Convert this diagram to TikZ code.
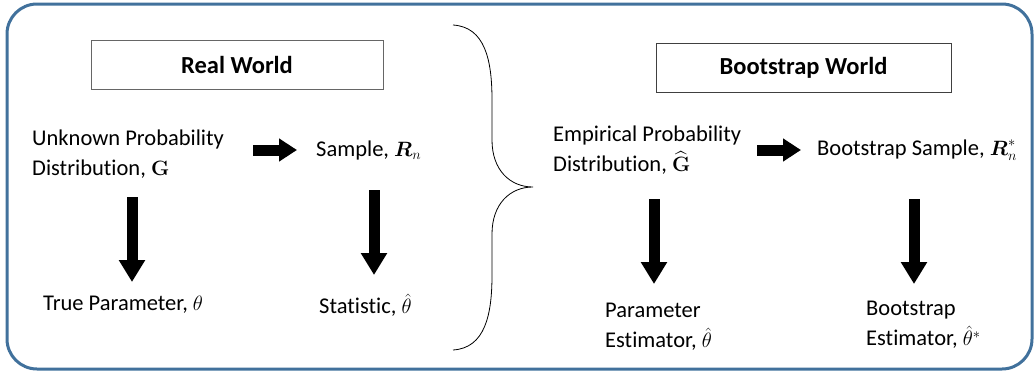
\documentclass[tikz,border=0pt]{standalone}
\usepackage{amsmath}
\usepackage[no-math]{fontspec}
\setmainfont{Carlito}[Ligatures=NoCommon]
\usetikzlibrary{arrows.meta}
\definecolor{frameblue}{RGB}{65,113,156}
\begin{document}
\begin{tikzpicture}[x=1pt,y=-1pt,
  txt/.style={inner sep=0pt,font=\fontsize{22.5}{30}\selectfont,align=left,anchor=west},
  titlebox/.style={draw=black!60,line width=0.9pt,inner sep=0pt,minimum height=49pt,font=\fontsize{24.5}{28}\selectfont\bfseries},
  bigarrow/.style={line width=11pt,-{Triangle[length=22pt,width=25pt]}},
  hbigarrow/.style={line width=11pt,-{Triangle[length=18pt,width=22pt]}}]
\useasboundingbox (0,0) rectangle (1034,372);
\draw[frameblue,line width=3pt,rounded corners=30pt] (7,4) rectangle (1032,369);
% titles
\node[titlebox,minimum width=292pt] (rw) at (237,64.5) {Real World};
\node[titlebox,draw=black!75,minimum width=295pt] (bw) at (803.5,67.5) {Bootstrap World};
% real world
\node[txt] (u) at (32,154) {Unknown Probability\\Distribution, $\mathbf{G}$};
\node[txt] (s) at (316,150) {Sample, $\boldsymbol{R}_n$};
\node[txt] (tp) at (43,305) {True Parameter, $\theta$};
\node[txt] (st) at (319,305) {Statistic, $\hat{\theta}$};
% bootstrap world
\node[txt] (e) at (553,150) {Empirical Probability\\Distribution, $\widehat{\mathbf{G}}$};
\node[txt] (bs) at (817,150) {Bootstrap Sample, $\boldsymbol{R}_n^*$};
\node[txt] (pe) at (605,327) {Parameter\\Estimator, $\hat{\theta}$};
\node[txt] (be) at (866,325) {Bootstrap\\Estimator, $\hat{\theta}^*$};
% arrows
\draw[hbigarrow] ([shift={(221,-4)}]u.west) -- ([shift={(-19,0)}]s.west);
\draw[bigarrow] ([shift={(100,43)}]u.west) -- ([shift={(89,-23)}]tp.west);
\draw[bigarrow] ([shift={(58,40)}]s.west) -- ([shift={(55,-30)}]st.west);
\draw[hbigarrow] ([shift={(204,0)}]e.west) -- ([shift={(-16,0)}]bs.west);
\draw[bigarrow] ([shift={(101,49)}]e.west) -- ([shift={(49,-43)}]pe.west);
\draw[bigarrow] ([shift={(97,49)}]bs.west) -- ([shift={(48,-41)}]be.west);
% brace
\draw[line width=0.8pt] (453,25) .. controls (485,27) and (492,60) .. (492,100) -- (492,140)
  .. controls (492,170) and (510,187) .. (533,187)
  .. controls (510,187) and (492,204) .. (492,234) -- (492,275)
  .. controls (492,315) and (485,348) .. (453,350);
\end{tikzpicture}
\end{document}
